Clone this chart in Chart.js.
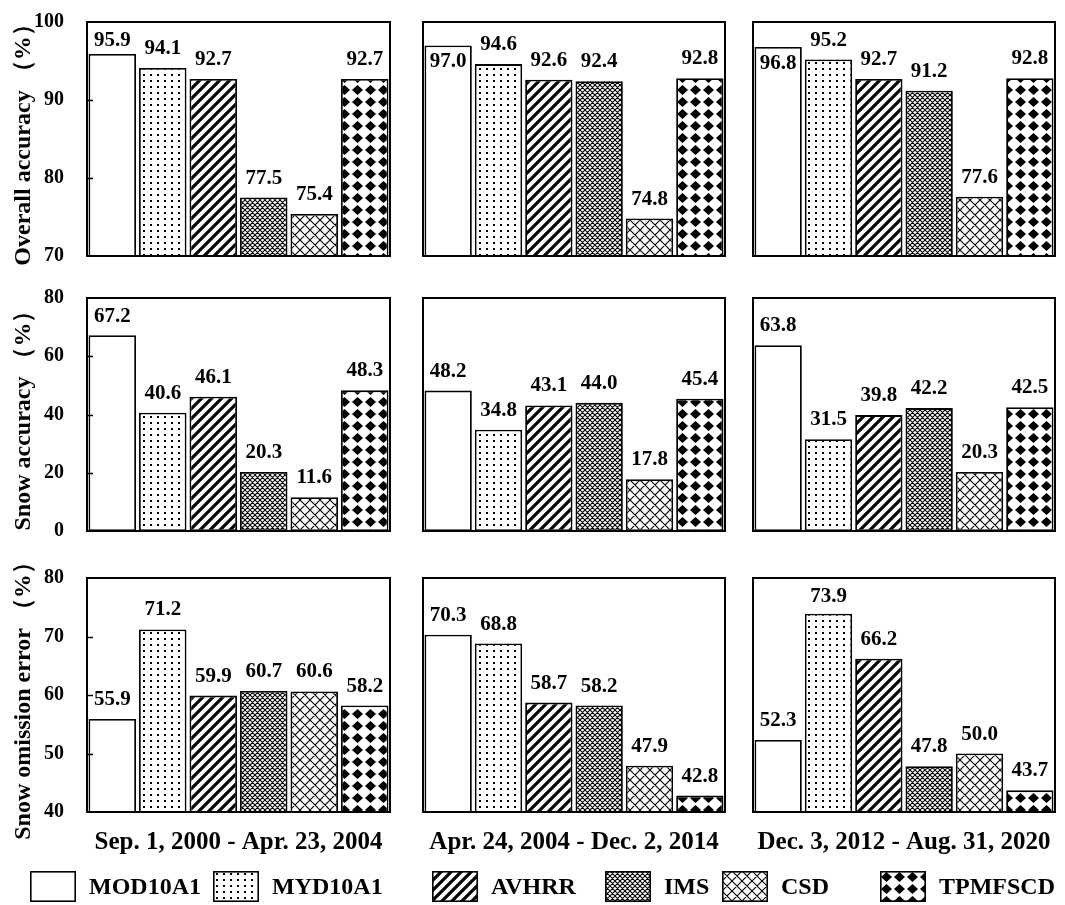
<!DOCTYPE html>
<html>
<head>
<meta charset="utf-8">
<script src="https://cdn.jsdelivr.net/npm/chart.js@4.4.1/dist/chart.umd.min.js"></script>
<style>
  html, body { margin: 0; padding: 0; background: #fff; }
  #stage { position: relative; width: 1065px; height: 905px; overflow: hidden; background: #fff; }
  #stage canvas.panel { position: absolute; left: 0; top: 0; }
  .legend-item { position: absolute; display: flex; align-items: center; font: bold 24px "Liberation Serif", "Times New Roman", serif; color: #000; white-space: nowrap; }
  .legend-item canvas { display: block; margin-right: 13px; }
</style>
</head>
<body>
<div id="stage"></div>
<script>
// ---- data ----
const products = ['MOD10A1', 'MYD10A1', 'AVHRR', 'IMS', 'CSD', 'TPMFSCD'];
const periods = ['Sep. 1, 2000 - Apr. 23, 2004', 'Apr. 24, 2004 - Dec. 2, 2014', 'Dec. 3, 2012 - Aug. 31, 2020'];

const overallTitle = 'Overall accuracy （%）';
const snowAccTitle = 'Snow accuracy （%）';
const omissionTitle = 'Snow omission error （%）';

// one inner array per period, values in product order
const overallAccuracy = [
  [95.9, 94.1, 92.7, 77.5, 75.4, 92.7],
  [97.0, 94.6, 92.6, 92.4, 74.8, 92.8],
  [96.8, 95.2, 92.7, 91.2, 77.6, 92.8]
];
const snowAccuracy = [
  [67.2, 40.6, 46.1, 20.3, 11.6, 48.3],
  [48.2, 34.8, 43.1, 44.0, 17.8, 45.4],
  [63.8, 31.5, 39.8, 42.2, 20.3, 42.5]
];
const snowOmissionError = [
  [55.9, 71.2, 59.9, 60.7, 60.6, 58.2],
  [70.3, 68.8, 58.7, 58.2, 47.9, 42.8],
  [52.3, 73.9, 66.2, 47.8, 50.0, 43.7]
];

const overallTicks = [70, 80, 90, 100];
const snowAccTicks = [0, 20, 40, 60, 80];
const omissionTicks = [40, 50, 60, 70, 80];

// ---- layout (plot box edges in page pixels) ----
const W = 1065, H = 905;
const COL_L = [87, 423, 753];
const COL_R = [390, 725, 1055];
const ROW_T = [22, 298, 578];
const ROW_B = [256, 531, 812];
const X_AXIS_H = 56;
const FONT = '"Liberation Serif", "Times New Roman", serif';

const rows = [
  { title: overallTitle, values: overallAccuracy, ticks: overallTicks },
  { title: snowAccTitle, values: snowAccuracy, ticks: snowAccTicks },
  { title: omissionTitle, values: snowOmissionError, ticks: omissionTicks }
];

// ---- fill patterns ----
function tile(w, h, paint) {
  const c = document.createElement('canvas');
  c.width = w; c.height = h;
  const g = c.getContext('2d');
  g.fillStyle = '#fff';
  g.fillRect(0, 0, w, h);
  g.fillStyle = '#000';
  g.strokeStyle = '#000';
  paint(g, w, h);
  return g.createPattern(c, 'repeat');
}
function makeFills() {
  const blank = '#ffffff';
  const dots = tile(7, 6, (g) => { g.fillRect(3, 2, 2, 2); });
  const stripes = tile(10, 10, (g, w, h) => {
    g.lineWidth = 3.2;
    g.beginPath();
    for (let k = -1; k <= 1; k++) {
      g.moveTo(k * w - 2, h + 2);
      g.lineTo(k * w + w + 2, -2);
    }
    g.stroke();
  });
  const fineHatch = tile(5, 5, (g, w, h) => {
    g.lineWidth = 1.1;
    g.beginPath();
    for (let k = -1; k <= 1; k++) {
      g.moveTo(k * w, h); g.lineTo(k * w + w, 0);
      g.moveTo(k * w, 0); g.lineTo(k * w + w, h);
    }
    g.stroke();
  });
  const coarseHatch = tile(10, 10, (g, w, h) => {
    g.lineWidth = 1.1;
    g.beginPath();
    for (let k = -1; k <= 1; k++) {
      g.moveTo(k * w, h); g.lineTo(k * w + w, 0);
      g.moveTo(k * w, 0); g.lineTo(k * w + w, h);
    }
    g.stroke();
  });
  const diamonds = tile(13, 12, (g) => {
    g.beginPath();
    g.moveTo(6.5, 1); g.lineTo(12, 6); g.lineTo(6.5, 11); g.lineTo(1, 6);
    g.closePath();
    g.fill();
  });
  return [blank, dots, stripes, fineHatch, coarseHatch, diamonds];
}
const fills = makeFills();

// ---- plugins ----
const boxPlugin = {
  id: 'plotBox',
  afterDraw(chart) {
    const { ctx, chartArea: a } = chart;
    ctx.save();
    ctx.strokeStyle = '#000';
    ctx.lineWidth = 2;
    ctx.strokeRect(a.left, a.top, a.right - a.left, a.bottom - a.top);
    ctx.restore();
  }
};

const innerTicksPlugin = {
  id: 'innerTicks',
  afterDraw(chart) {
    const y = chart.scales.y;
    if (!y.options.display) return;
    const { ctx, chartArea: a } = chart;
    ctx.save();
    ctx.strokeStyle = '#000';
    ctx.lineWidth = 1.5;
    y.ticks.forEach((t) => {
      if (t.value <= y.min || t.value >= y.max) return;
      const py = Math.round(y.getPixelForValue(t.value)) + 0.5;
      ctx.beginPath();
      ctx.moveTo(a.left, py);
      ctx.lineTo(a.left + 6, py);
      ctx.stroke();
    });
    ctx.restore();
  }
};

const valueLabelPlugin = {
  id: 'valueLabels',
  afterDatasetsDraw(chart) {
    const { ctx, chartArea: a } = chart;
    const meta = chart.getDatasetMeta(0);
    const data = chart.data.datasets[0].data;
    const capH = 14;
    ctx.save();
    ctx.font = 'bold 21px ' + FONT;
    ctx.fillStyle = '#000';
    ctx.textAlign = 'center';
    ctx.textBaseline = 'alphabetic';
    meta.data.forEach((bar, i) => {
      let base = bar.y - 14;
      const minBase = a.top + 10 + capH;
      if (base < minBase) {
        base = minBase;
        if (base > bar.y - 4) base = bar.y + 8 + capH;
      }
      ctx.fillText(data[i].toFixed(1), bar.x, base);
    });
    ctx.restore();
  }
};

// ---- panels ----
const stage = document.getElementById('stage');

rows.forEach((row, r) => {
  periods.forEach((period, c) => {
    const cv = document.createElement('canvas');
    cv.className = 'panel';
    cv.width = W; cv.height = H;
    stage.appendChild(cv);

    const ticks = row.ticks;
    const isLeft = c === 0;
    const isBottom = r === rows.length - 1;

    new Chart(cv, {
      type: 'bar',
      data: {
        labels: products,
        datasets: [{
          data: row.values[c],
          backgroundColor: fills,
          borderColor: '#000',
          borderWidth: 1.8,
          borderSkipped: false,
          barPercentage: 0.94,
          categoryPercentage: 1
        }]
      },
      options: {
        responsive: false,
        animation: false,
        events: [],
        layout: {
          padding: {
            left: isLeft ? 0 : COL_L[c],
            right: W - COL_R[c],
            top: ROW_T[r],
            bottom: isBottom ? H - ROW_B[r] - X_AXIS_H : H - ROW_B[r]
          }
        },
        plugins: { legend: { display: false }, tooltip: { enabled: false } },
        scales: {
          x: {
            display: isBottom,
            grid: { display: false, drawTicks: false },
            border: { display: false },
            ticks: { display: false },
            title: {
              display: isBottom,
              text: period,
              color: '#000',
              font: { family: FONT, size: 25, weight: 'bold' },
              padding: { top: 0, bottom: 10 }
            },
            afterFit(scale) {
              if (isBottom) scale.height = X_AXIS_H;
              scale.paddingLeft = 0;
              scale.paddingRight = 0;
            }
          },
          y: {
            display: isLeft,
            min: ticks[0],
            max: ticks[ticks.length - 1],
            grid: { display: false, drawTicks: false },
            border: { display: false },
            ticks: {
              stepSize: ticks[1] - ticks[0],
              padding: 23,
              color: '#000',
              font: { family: FONT, size: 20, weight: 'bold' }
            },
            title: {
              display: true,
              text: row.title,
              color: '#000',
              font: { family: FONT, size: 24, weight: 'bold' },
              padding: { top: 9, bottom: 0 }
            },
            afterFit(scale) {
              if (isLeft) scale.width = COL_L[0];
              scale.paddingTop = 0;
              scale.paddingBottom = 0;
            }
          }
        }
      },
      plugins: [valueLabelPlugin, boxPlugin, innerTicksPlugin]
    });
  });
});

// ---- legend ----
const legendSpots = [
  { box: 30, y: 871 }, { box: 213, y: 871 }, { box: 432, y: 871 },
  { box: 605, y: 871 }, { box: 722, y: 871 }, { box: 880, y: 871 }
];
products.forEach((name, i) => {
  const item = document.createElement('div');
  item.className = 'legend-item';
  item.style.left = legendSpots[i].box + 'px';
  item.style.top = legendSpots[i].y + 'px';
  const sw = document.createElement('canvas');
  sw.width = 46; sw.height = 31;
  const g = sw.getContext('2d');
  g.fillStyle = fills[i];
  g.fillRect(0, 0, 46, 31);
  g.strokeStyle = '#000';
  g.lineWidth = 1.6;
  g.strokeRect(0.8, 0.8, 44.4, 29.4);
  item.appendChild(sw);
  const label = document.createElement('span');
  label.textContent = name;
  item.appendChild(label);
  stage.appendChild(item);
});
</script>
</body>
</html>
